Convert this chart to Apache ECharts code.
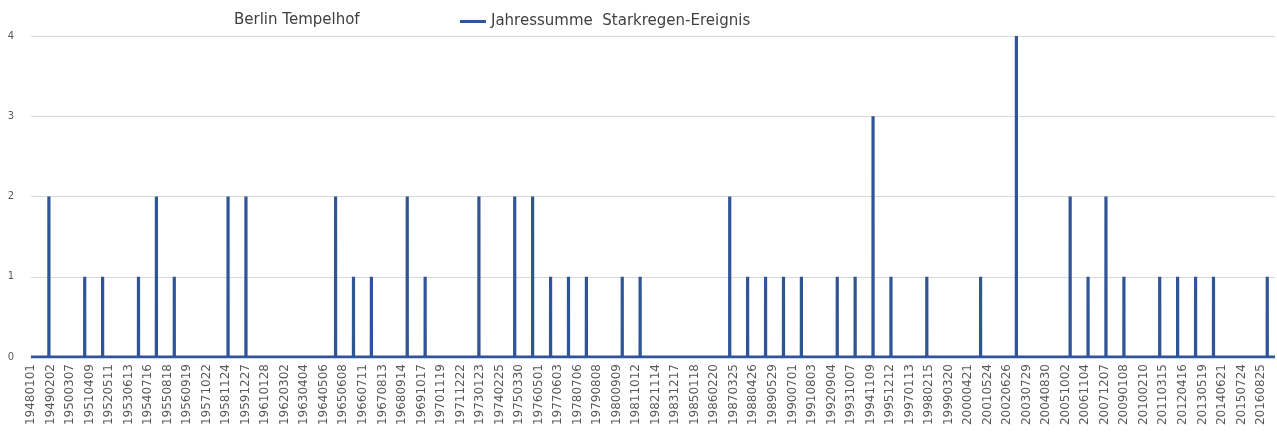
<!DOCTYPE html>
<html>
<head>
<meta charset="utf-8">
<script src="https://cdn.jsdelivr.net/npm/echarts@6/dist/echarts.min.js"></script>
<style>
  html, body { margin: 0; padding: 0; background: #fff; }
  #chart { width: 1277px; height: 435px; }
</style>
</head>
<body>
<div id="chart"></div>
<script>
// Jahre mit Starkregen-Ereignissen und deren Anzahl (Jahressumme)
var eventYears = [1948, 1950, 1951, 1953, 1954, 1955, 1958, 1959, 1964, 1965,
  1966, 1968, 1969, 1972, 1974, 1975, 1976, 1977, 1978, 1980, 1981, 1986,
  1987, 1988, 1989, 1990, 1992, 1993, 1994, 1995, 1997, 2000, 2002, 2005,
  2006, 2007, 2008, 2010, 2011, 2012, 2013, 2016];
var eventCounts = [2, 1, 1, 1, 2, 1, 2, 2, 2, 1,
  1, 2, 1, 2, 2, 2, 1, 1, 1, 1, 1, 2,
  1, 1, 1, 1, 1, 1, 3, 1, 1, 1, 4, 2,
  1, 2, 1, 1, 1, 1, 1, 1];

// Beschriftung der x-Achse (alle 398 Tage ab 1948-01-01)
var tickLabels = ['19480101', '19490202', '19500307', '19510409', '19520511', '19530613',
  '19540716', '19550818', '19560919', '19571022', '19581124', '19591227', '19610128',
  '19620302', '19630404', '19640506', '19650608', '19660711', '19670813', '19680914',
  '19691017', '19701119', '19711222', '19730123', '19740225', '19750330', '19760501',
  '19770603', '19780706', '19790808', '19800909', '19811012', '19821114', '19831217',
  '19850118', '19860220', '19870325', '19880426', '19890529', '19900701', '19910803',
  '19920904', '19931007', '19941109', '19951212', '19970113', '19980215', '19990320',
  '20000421', '20010524', '20020626', '20030729', '20040830', '20051002', '20061104',
  '20071207', '20090108', '20100210', '20110315', '20120416', '20130519', '20140621',
  '20150724', '20160825'];

var labelStep = 398;      // Tage zwischen zwei Beschriftungen
var lastDay = 25360;      // Ende der Tagesreihe
var DAY = 86400000;
var base = Date.UTC(1948, 0, 1);

function dayOf(y) {
  // Jahressumme am 31.12. des Jahres
  return Math.round((Date.UTC(y, 11, 31) - base) / DAY);
}

var lineData = [[0, 0]];
eventYears.forEach(function (y, i) {
  var d = dayOf(y);
  lineData.push([d - 1, 0], [d, eventCounts[i]], [d + 1, 0]);
});
lineData.push([lastDay, 0]);

var chart = echarts.init(document.getElementById('chart'));
chart.setOption({
  animation: false,
  backgroundColor: '#fff',
  title: {
    text: 'Berlin Tempelhof',
    left: 229,
    top: 8,
    textStyle: { fontFamily: 'DejaVu Sans', fontSize: 15, fontWeight: 'normal', color: '#404040' }
  },
  legend: {
    left: 455,
    top: 9,
    icon: 'rect',
    itemWidth: 26,
    itemHeight: 3,
    textStyle: { fontFamily: 'DejaVu Sans', fontSize: 15, color: '#404040' },
    data: ['Jahressumme  Starkregen-Ereignis']
  },
  grid: { left: 31, right: 2, top: 36, bottom: 78 },
  xAxis: {
    type: 'value',
    min: 0,
    max: lastDay,
    interval: labelStep,
    axisLine: { show: true, lineStyle: { color: '#d9d9d9' } },
    axisTick: { show: false },
    splitLine: { show: false },
    axisLabel: {
      rotate: 90,
      margin: 7,
      showMaxLabel: false,
      fontFamily: 'DejaVu Sans',
      fontSize: 12,
      color: '#595959',
      formatter: function (v) {
        if (v % labelStep !== 0) return '';
        return tickLabels[v / labelStep] || '';
      }
    }
  },
  yAxis: {
    type: 'value',
    min: 0,
    max: 4,
    interval: 1,
    axisLine: { show: false },
    axisTick: { show: false },
    splitLine: { lineStyle: { color: '#d9d9d9', width: 1 } },
    axisLabel: { margin: 17, fontFamily: 'DejaVu Sans', fontSize: 10, color: '#595959' }
  },
  series: [{
    name: 'Jahressumme  Starkregen-Ereignis',
    type: 'line',
    data: lineData,
    symbol: 'none',
    showSymbol: false,
    lineStyle: { color: '#2f5597', width: 3.2 },
    itemStyle: { color: '#2f5597' }
  }]
});
</script>
</body>
</html>
